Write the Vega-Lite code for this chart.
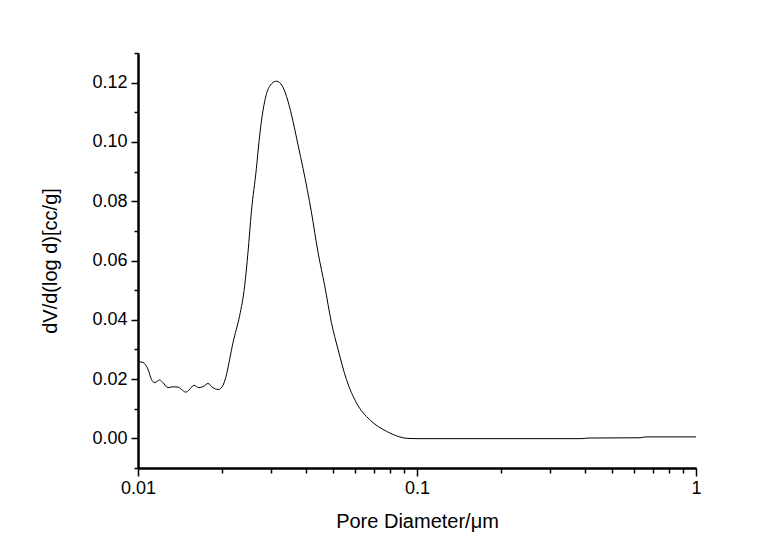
{
  "$schema": "https://vega.github.io/schema/vega-lite/v6.json",
  "width": 558,
  "height": 415,
  "autosize": {"type": "none"},
  "padding": {"left": 138, "top": 53, "right": 61, "bottom": 80},
  "background": "white",
  "config": {
    "view": {"stroke": null},
    "font": "Liberation Sans",
    "axis": {
      "grid": false,
      "domainColor": "black",
      "domainWidth": 2,
      "tickColor": "black",
      "tickWidth": 1.5,
      "labelColor": "black",
      "titleColor": "black",
      "labelFont": "Liberation Sans",
      "titleFont": "Liberation Sans",
      "labelFontSize": 18,
      "titleFontSize": 20,
      "titleFontWeight": "normal"
    }
  },
  "data": {
    "values": [
      {"d": 0.01, "v": 0.0259},
      {"d": 0.01042, "v": 0.0256},
      {"d": 0.01086, "v": 0.0233},
      {"d": 0.01117, "v": 0.0199},
      {"d": 0.01148, "v": 0.0188},
      {"d": 0.01196, "v": 0.0197},
      {"d": 0.01229, "v": 0.0188},
      {"d": 0.0128, "v": 0.0171},
      {"d": 0.01335, "v": 0.0174},
      {"d": 0.01391, "v": 0.0173},
      {"d": 0.01431, "v": 0.0165},
      {"d": 0.01483, "v": 0.0156},
      {"d": 0.01523, "v": 0.0163},
      {"d": 0.01588, "v": 0.0179},
      {"d": 0.01654, "v": 0.0171},
      {"d": 0.0172, "v": 0.0176},
      {"d": 0.01782, "v": 0.0185},
      {"d": 0.01856, "v": 0.0171},
      {"d": 0.01935, "v": 0.0165},
      {"d": 0.0199, "v": 0.0171},
      {"d": 0.02063, "v": 0.0205},
      {"d": 0.02131, "v": 0.0267},
      {"d": 0.0219, "v": 0.0323},
      {"d": 0.02252, "v": 0.0368},
      {"d": 0.02314, "v": 0.0414},
      {"d": 0.02412, "v": 0.0515},
      {"d": 0.02479, "v": 0.0628},
      {"d": 0.02549, "v": 0.0764},
      {"d": 0.02657, "v": 0.0911},
      {"d": 0.02715, "v": 0.1001},
      {"d": 0.02769, "v": 0.1069},
      {"d": 0.02845, "v": 0.1137},
      {"d": 0.02965, "v": 0.1188},
      {"d": 0.03134, "v": 0.1205},
      {"d": 0.03293, "v": 0.1188},
      {"d": 0.03449, "v": 0.1137},
      {"d": 0.03595, "v": 0.1069},
      {"d": 0.03746, "v": 0.099},
      {"d": 0.03904, "v": 0.0911},
      {"d": 0.04182, "v": 0.0764},
      {"d": 0.04417, "v": 0.0628},
      {"d": 0.04668, "v": 0.0515},
      {"d": 0.04933, "v": 0.0391},
      {"d": 0.05209, "v": 0.0301},
      {"d": 0.05584, "v": 0.0199},
      {"d": 0.06064, "v": 0.012},
      {"d": 0.06767, "v": 0.0063},
      {"d": 0.07769, "v": 0.0024},
      {"d": 0.0867, "v": 0.0005},
      {"d": 0.0916, "v": 0.0},
      {"d": 0.1, "v": -0.0001},
      {"d": 0.2, "v": -0.0001},
      {"d": 0.39, "v": -0.0001},
      {"d": 0.41, "v": 0.0001},
      {"d": 0.63, "v": 0.0002},
      {"d": 0.66, "v": 0.0005},
      {"d": 1.0, "v": 0.0005}
    ]
  },
  "resolve": {"axis": {"x": "independent", "y": "independent"}},
  "layer": [
    {
      "mark": {"type": "line", "color": "black", "strokeWidth": 1, "interpolate": "monotone"},
      "encoding": {
        "x": {
          "field": "d", "type": "quantitative",
          "scale": {"type": "log", "domain": [0.01, 1], "nice": false},
          "axis": {
            "orient": "bottom",
            "values": [0.01, 0.1, 1],
            "format": "~g",
            "tickSize": 8,
            "labelPadding": 3,
            "labelFlush": false,
            "title": "Pore Diameter/μm",
            "titlePadding": 14
          }
        },
        "y": {
          "field": "v", "type": "quantitative",
          "scale": {"domain": [-0.01, 0.13], "nice": false, "zero": false},
          "axis": {
            "orient": "left",
            "values": [0, 0.02, 0.04, 0.06, 0.08, 0.1, 0.12],
            "format": ".2f",
            "tickSize": 7,
            "labelPadding": 4,
            "title": "dV/d(log d)[cc/g]",
            "titlePadding": 31
          }
        }
      }
    },
    {
      "mark": {"type": "line", "opacity": 0},
      "encoding": {
        "x": {
          "field": "d", "type": "quantitative",
          "scale": {"type": "log", "domain": [0.01, 1], "nice": false},
          "axis": {
            "orient": "bottom",
            "values": [0.02, 0.03, 0.04, 0.05, 0.06, 0.07, 0.08, 0.09, 0.2, 0.3, 0.4, 0.5, 0.6, 0.7, 0.8, 0.9],
            "labels": false,
            "tickSize": 5,
            "title": null
          }
        },
        "y": {
          "field": "v", "type": "quantitative",
          "scale": {"domain": [-0.01, 0.13], "nice": false, "zero": false},
          "axis": {
            "orient": "left",
            "values": [-0.01, 0.01, 0.03, 0.05, 0.07, 0.09, 0.11, 0.13],
            "labels": false,
            "tickSize": 4,
            "title": null
          }
        }
      }
    }
  ]
}
